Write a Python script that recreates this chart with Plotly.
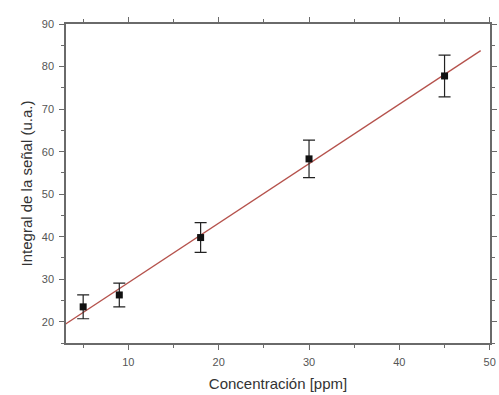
import numpy as np
import plotly.graph_objects as go

# Data
conc = [5, 9, 18, 30, 45]
signal = [23.5, 26.3, 39.8, 58.3, 77.8]
err = [2.8, 2.8, 3.5, 4.4, 4.9]
fit_range = [3, 49]

x_ticks = [10, 20, 30, 40, 50]
y_ticks = [20, 30, 40, 50, 60, 70, 80, 90]

slope, intercept = np.polyfit(conc, signal, 1)
fit_x = np.array(fit_range, dtype=float)
fit_y = slope * fit_x + intercept

axis_col = "#6a6a6a"
font = "Liberation Sans, Arial, sans-serif"
x_range = [3.1, 50.03]
y_range = [15, 90.02]

fig = go.Figure()
fig.add_trace(go.Scatter(x=fit_x, y=fit_y, mode="lines",
                         line=dict(color="#b5524c", width=1.3),
                         showlegend=False, hoverinfo="skip"))
fig.add_trace(go.Scatter(x=conc, y=signal, mode="markers",
                         marker=dict(symbol="square", size=7, color="#111111"),
                         error_y=dict(type="data", array=err, visible=True,
                                      color="#222222", thickness=1.2, width=6),
                         showlegend=False))

common = dict(showgrid=False, zeroline=False, showline=True, linecolor=axis_col,
              linewidth=1.5, tickcolor=axis_col, tickwidth=1.3, automargin=False,
              mirror="allticks", ticklabeloverflow="allow")

fig.update_layout(
    width=499, height=395,
    margin=dict(l=66, r=9, t=24, b=52),
    paper_bgcolor="white", plot_bgcolor="white",
    font=dict(family=font, color="#555555", size=11),
    xaxis=dict(range=x_range, tickvals=x_ticks, ticks="outside", ticklen=5,
               minor=dict(ticks="outside", dtick=5, tick0=0, ticklen=3,
                          tickcolor=axis_col, tickwidth=1.3),
               title=dict(text="Concentración [ppm]", font=dict(size=15, color="#333333"),
                          standoff=12),
               ticklabelstandoff=3,
               tickfont=dict(size=11, color="#555555"), **common),
    yaxis=dict(range=y_range, tickvals=y_ticks, ticks="outside", ticklen=5,
               minor=dict(ticks="outside", dtick=5, tick0=0, ticklen=3,
                          tickcolor=axis_col, tickwidth=1.3),
               title=dict(text="Integral de la señal (u.a.)", font=dict(size=15, color="#333333"),
                          standoff=6),
               ticklabelstandoff=3,
               tickfont=dict(size=11, color="#555555"), **common),
)

fig.write_html("out.html", config={"displayModeBar": False},
               post_script="document.body.style.margin='0px';")
